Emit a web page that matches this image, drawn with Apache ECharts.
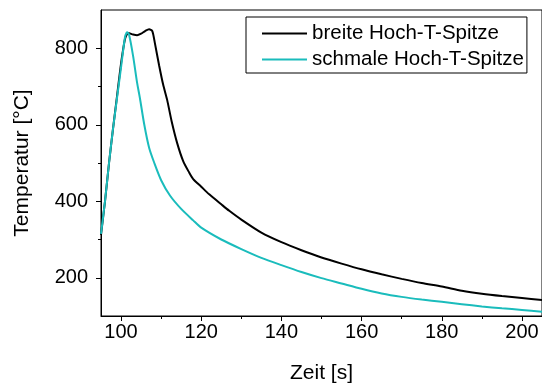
<!DOCTYPE html>
<html><head><meta charset="utf-8">
<script src="https://cdn.jsdelivr.net/npm/echarts@6/dist/echarts.min.js"></script>
<style>html,body{margin:0;padding:0;background:#fff}#c{width:542px;height:389px}</style>
</head><body><div id="c"></div>
<script>
const seriesNames = ['breite Hoch-T-Spitze', 'schmale Hoch-T-Spitze'];
const breiteTime = [95,96,97,98,99,100,101,101.8,103,104,105,106,107,107.8,108.5,109.5,110.5,111.5,112.6,114,115.5,117,118,120,122,125,127,130,135,140,145,150,155,160,165,170,175,180,185,190,195,200,205];
const breiteTemp = [312,400,500,590,675,760,825,840,836,834,838,845,850,845,810,755,705,665,610,552,505,475,458,438,418,392,375,352,318,293,272,253,237,222,209,197,186,177,166,158,152,147,142];
const schmaleTime = [95,96,97,98,99,100,101,101.5,102,103,104,104.7,105.8,107,108.3,110,112.2,115,118,120,125,130,135,140,145,150,155,160,165,170,175,180,185,190,195,200,205];
const schmaleTemp = [315,400,500,590,670,750,830,842,835,780,710,670,600,540,500,455,415,380,350,331,300,275,252,233,215,199,185,171,159,150,143,137,131,125,120,116,111];
const xMajorTicks = [100,120,140,160,180,200];
const xMinorTicks = [110,130,150,170,190];
const yMajorTicks = [200,400,600,800];
const yMinorTicks = [300,500,700];
const colors = ['#000000', '#1abcbc'];

const FONT = '"Liberation Sans", Arial, sans-serif';
const chart = echarts.init(document.getElementById('c'), null, {renderer: 'canvas'});
const zip = (a, b) => a.map((v, i) => [v, b[i]]);
const title = {color: '#000', fontFamily: FONT, fontSize: 21};

chart.setOption({
  animation: false,
  grid: {left: 101, top: 10, width: 442, height: 313, show: true, borderColor: '#000', borderWidth: 1, backgroundColor: 'transparent', containLabel: false},
  legend: {
    orient: 'vertical', left: 246, top: 17,
    borderColor: '#000', borderWidth: 1, borderRadius: 0,
    padding: [6, 3, 3, 16], itemGap: 5, itemWidth: 45, itemHeight: 2,
    textStyle: {color: '#000', fontFamily: FONT, fontSize: 20.5, lineHeight: 20},
    data: seriesNames.map(n => ({name: n, icon: 'rect'}))
  },
  xAxis: [
    {type: 'value', min: 95, max: 205, position: 'bottom',
     name: 'Zeit [s]', nameLocation: 'middle', nameGap: 47, nameTextStyle: title,
     axisLine: {show: true, lineStyle: {color: '#000', width: 1}},
     axisTick: {show: true, customValues: xMajorTicks, length: 5, lineStyle: {color: '#000'}},
     axisLabel: {customValues: xMajorTicks, margin: 6, color: '#000', fontFamily: FONT, fontSize: 20},
     splitLine: {show: false}},
    {type: 'value', min: 95, max: 205, position: 'bottom', gridIndex: 0,
     axisLine: {show: false},
     axisTick: {show: true, customValues: xMinorTicks, length: 3, lineStyle: {color: '#000'}},
     axisLabel: {show: false}, splitLine: {show: false}}
  ],
  yAxis: [
    {type: 'value', min: 100, max: 900,
     name: 'Temperatur [°C]', nameLocation: 'middle', nameGap: 68, nameTextStyle: title,
     axisLine: {show: true, lineStyle: {color: '#000', width: 1}},
     axisTick: {show: true, customValues: yMajorTicks, length: 5, lineStyle: {color: '#000'}},
     axisLabel: {customValues: yMajorTicks, margin: 13, color: '#000', fontFamily: FONT, fontSize: 20},
     splitLine: {show: false}},
    {type: 'value', min: 100, max: 900, position: 'left',
     axisLine: {show: false},
     axisTick: {show: true, customValues: yMinorTicks, length: 3, lineStyle: {color: '#000'}},
     axisLabel: {show: false}, splitLine: {show: false}}
  ],
  series: [
    {name: seriesNames[0], type: 'line', data: zip(breiteTime, breiteTemp), showSymbol: false, symbol: 'none', smooth: 0.25,
     lineStyle: {color: colors[0], width: 2}, itemStyle: {color: colors[0]}, z: 3},
    {name: seriesNames[1], type: 'line', data: zip(schmaleTime, schmaleTemp), showSymbol: false, symbol: 'none', smooth: 0.25,
     lineStyle: {color: colors[1], width: 2}, itemStyle: {color: colors[1]}, z: 4}
  ]
});
</script></body></html>
